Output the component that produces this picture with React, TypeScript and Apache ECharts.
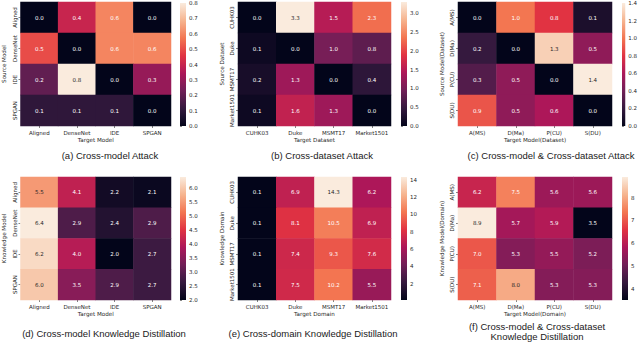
import React, { useEffect, useRef } from "react";
import * as echarts from "echarts";

// ---------- data ----------
const modelCats = ["Aligned", "DenseNet", "IDE", "SPGAN"];
const datasetCats = ["CUHK03", "Duke", "MSMT17", "Market1501"];
const mdCats = ["A(MS)", "D(Ma)", "P(CU)", "S(DU)"];

const valuesA = [
  [0.0, 0.4, 0.6, 0.0],
  [0.5, 0.0, 0.6, 0.6],
  [0.2, 0.8, 0.0, 0.3],
  [0.1, 0.1, 0.1, 0.0],
];
const valuesB = [
  [0.0, 3.3, 1.5, 2.3],
  [0.1, 0.0, 1.0, 0.8],
  [0.2, 1.3, 0.0, 0.4],
  [0.1, 1.6, 1.3, 0.0],
];
const valuesC = [
  [0.0, 1.0, 0.8, 0.1],
  [0.2, 0.0, 1.3, 0.5],
  [0.3, 0.5, 0.0, 1.4],
  [0.9, 0.5, 0.6, 0.0],
];
const valuesD = [
  [5.5, 4.1, 2.2, 2.1],
  [6.4, 2.9, 2.4, 2.9],
  [6.2, 4.0, 2.0, 2.7],
  [6.0, 3.5, 2.9, 2.7],
];
const valuesE = [
  [0.1, 6.9, 14.3, 6.2],
  [0.1, 8.1, 10.5, 6.9],
  [0.1, 7.4, 9.3, 7.6],
  [0.1, 7.5, 10.2, 5.5],
];
const valuesF = [
  [6.2, 7.5, 5.6, 5.6],
  [8.9, 5.7, 5.9, 3.5],
  [7.0, 5.3, 5.5, 5.2],
  [7.1, 8.0, 5.3, 5.3],
];

const ticksA = [0.0, 0.1, 0.2, 0.3, 0.4, 0.5, 0.6, 0.7, 0.8];
const ticksB = [0.0, 0.5, 1.0, 1.5, 2.0, 2.5, 3.0];
const ticksC = [0.0, 0.2, 0.4, 0.6, 0.8, 1.0, 1.2, 1.4];
const ticksD = [2.0, 2.5, 3.0, 3.5, 4.0, 4.5, 5.0, 5.5, 6.0];
const ticksE = [2, 4, 6, 8, 10, 12, 14];
const ticksF = [4, 5, 6, 7, 8];

const rangeA = [0.0, 0.8];
const rangeB = [0.0, 3.3];
const rangeC = [0.0, 1.4];
const rangeD = [2.0, 6.4];
const rangeE = [0.1, 14.3];
const rangeF = [3.5, 8.9];

const captions = [
  "(a) Cross-model Attack",
  "(b) Cross-dataset Attack",
  "(c) Cross-model & Cross-dataset Attack",
  "(d) Cross-model Knowledge Distillation",
  "(e) Cross-domain Knowledge Distillation",
  "(f) Cross-model & Cross-dataset\nKnowledge Distillation",
];

const panels = [
  { x: modelCats, y: modelCats, v: valuesA, r: rangeA, t: ticksA, dec: 1, xName: "Target Model", yName: "Source Model" },
  { x: datasetCats, y: datasetCats, v: valuesB, r: rangeB, t: ticksB, dec: 1, xName: "Target Dataset", yName: "Source Dataset" },
  { x: mdCats, y: mdCats, v: valuesC, r: rangeC, t: ticksC, dec: 1, xName: "Target Model(Dataset)", yName: "Source Model(Dataset)" },
  { x: modelCats, y: modelCats, v: valuesD, r: rangeD, t: ticksD, dec: 1, xName: "Target Model", yName: "Knowledge Model" },
  { x: datasetCats, y: datasetCats, v: valuesE, r: rangeE, t: ticksE, dec: 0, xName: "Target Domain", yName: "Knowledge Domain" },
  { x: mdCats, y: mdCats, v: valuesF, r: rangeF, t: ticksF, dec: 0, xName: "Target Model(Domain)", yName: "Knowledge Model(Domain)" },
];

// ---------- layout ----------
const layout = [
  { left: 18, top: 2, width: 153, height: 124, cb: 180, cx: 110, cy: 155 },
  { left: 238, top: 2, width: 153, height: 124, cb: 401, cx: 322, cy: 155 },
  { left: 458, top: 2, width: 154, height: 124, cb: 622, cx: 551, cy: 155 },
  { left: 18, top: 177, width: 153, height: 123, cb: 180, cx: 104, cy: 333.5 },
  { left: 238, top: 177, width: 153, height: 123, cb: 401, cx: 313, cy: 333.5 },
  { left: 458, top: 177, width: 154, height: 123, cb: 622, cx: 537, cy: 331.5 },
];

const rocket = ["#03051a", "#35193e", "#701f57", "#ad1759", "#e13342", "#f37651", "#f6b48f", "#faebdd"];

function hexToRgb(h: string) {
  return [parseInt(h.slice(1, 3), 16), parseInt(h.slice(3, 5), 16), parseInt(h.slice(5, 7), 16)];
}
function rocketAt(t: number) {
  const tt = Math.max(0, Math.min(1, t)) * (rocket.length - 1);
  const i = Math.min(rocket.length - 2, Math.floor(tt));
  const f = tt - i;
  const a = hexToRgb(rocket[i]);
  const b = hexToRgb(rocket[i + 1]);
  return a.map((c, k) => c + (b[k] - c) * f);
}
function luminance(rgb: number[]) {
  const lin = rgb.map((c) => {
    const s = c / 255;
    return s <= 0.03928 ? s / 12.92 : Math.pow((s + 0.055) / 1.055, 2.4);
  });
  return 0.2126 * lin[0] + 0.7152 * lin[1] + 0.0722 * lin[2];
}

const TICK_FONT = "DejaVu Sans";
const CAP_FONT = "Liberation Sans";
const TXT = "#262626";

export default function App() {
  const ref = useRef<HTMLDivElement>(null);
  useEffect(() => {
    const chart = echarts.init(ref.current!, undefined, { renderer: "svg" });
    const grid: any[] = [];
    const xAxis: any[] = [];
    const yAxis: any[] = [];
    const series: any[] = [];
    const visualMap: any[] = [];
    const graphic: any[] = [];

    panels.forEach((p, i) => {
      const L = layout[i];
      grid.push({ left: L.left, top: L.top, width: L.width, height: L.height });
      grid.push({ left: L.cb, top: L.top, width: 6, height: L.height });
      const tickStyle = { show: true, length: 2, alignWithLabel: true, lineStyle: { color: "#333", width: 0.6 } };
      xAxis.push({
        gridIndex: 2 * i,
        type: "category",
        data: p.x,
        name: p.xName,
        nameLocation: "middle",
        nameGap: 11,
        nameTextStyle: { fontSize: 5.6, fontFamily: TICK_FONT, color: TXT, verticalAlign: "top" },
        axisLine: { show: false },
        axisTick: tickStyle,
        axisLabel: { fontSize: 5.5, margin: 3.5, color: TXT, fontFamily: TICK_FONT, interval: 0 },
        splitLine: { show: false },
      });
      yAxis.push({
        gridIndex: 2 * i,
        type: "category",
        data: p.y,
        inverse: true,
        name: p.yName,
        nameLocation: "middle",
        nameGap: 13.5,
        nameTextStyle: { fontSize: 5.6, fontFamily: TICK_FONT, color: TXT },
        axisLine: { show: false },
        axisTick: tickStyle,
        axisLabel: { fontSize: 5.5, margin: 3, color: TXT, fontFamily: TICK_FONT, rotate: 90, interval: 0 },
        splitLine: { show: false },
      });
      xAxis.push({ gridIndex: 2 * i + 1, type: "value", min: 0, max: 1, show: false });
      yAxis.push({
        gridIndex: 2 * i + 1,
        type: "value",
        min: p.r[0],
        max: p.r[1],
        position: "right",
        axisLine: { show: false },
        splitLine: { show: false },
        axisTick: { show: true, length: 2, customValues: p.t, lineStyle: { color: "#333", width: 0.6 } },
        axisLabel: {
          customValues: p.t,
          fontSize: 5.5,
          margin: 3,
          color: TXT,
          fontFamily: TICK_FONT,
          formatter: (v: number) => v.toFixed(p.dec),
        },
      });

      const data: any[] = [];
      p.v.forEach((row, yi) => {
        row.forEach((val, xi) => {
          const rgb = rocketAt((val - p.r[0]) / (p.r[1] - p.r[0]));
          const col = luminance(rgb) > 0.408 ? "#262626" : "#ffffff";
          data.push({ value: [xi, yi, val], label: { color: col } });
        });
      });
      series.push({
        type: "heatmap",
        xAxisIndex: 2 * i,
        yAxisIndex: 2 * i,
        data,
        silent: true,
        label: {
          show: true,
          fontSize: 5.5,
          fontFamily: TICK_FONT,
          formatter: (params: any) => Number(params.value[2]).toFixed(1),
        },
      });
      const stops = rocket.map((c, k) => ({ offset: 1 - k / (rocket.length - 1), color: c })).reverse();
      series.push({
        type: "custom",
        xAxisIndex: 2 * i + 1,
        yAxisIndex: 2 * i + 1,
        silent: true,
        data: [[0, p.r[0], 1, p.r[1]]],
        encode: { x: [0, 2], y: [1, 3] },
        renderItem: (params: any, api: any) => {
          const tl = api.coord([api.value(0), api.value(3)]);
          const br = api.coord([api.value(2), api.value(1)]);
          return {
            type: "rect",
            shape: { x: tl[0], y: tl[1], width: br[0] - tl[0], height: br[1] - tl[1] },
            style: { fill: new echarts.graphic.LinearGradient(0, 0, 0, 1, stops) },
          };
        },
      });
      visualMap.push({
        type: "continuous",
        show: false,
        seriesIndex: 2 * i,
        dimension: 2,
        min: p.r[0],
        max: p.r[1],
        inRange: { color: rocket },
      });
      graphic.push({
        type: "text",
        x: L.cx,
        y: L.cy,
        style: {
          text: captions[i],
          fontSize: 9.5,
          fontFamily: CAP_FONT,
          fill: "#1a1a1a",
          align: "center",
          verticalAlign: "middle",
          lineHeight: 10.5,
        },
      });
    });

    chart.setOption({
      animation: false,
      backgroundColor: "#ffffff",
      grid,
      xAxis,
      yAxis,
      series,
      visualMap,
      graphic,
    });
    return () => chart.dispose();
  }, []);
  return <div ref={ref} style={{ position: "fixed", left: 0, top: 0, width: 640, height: 344 }} />;
}
